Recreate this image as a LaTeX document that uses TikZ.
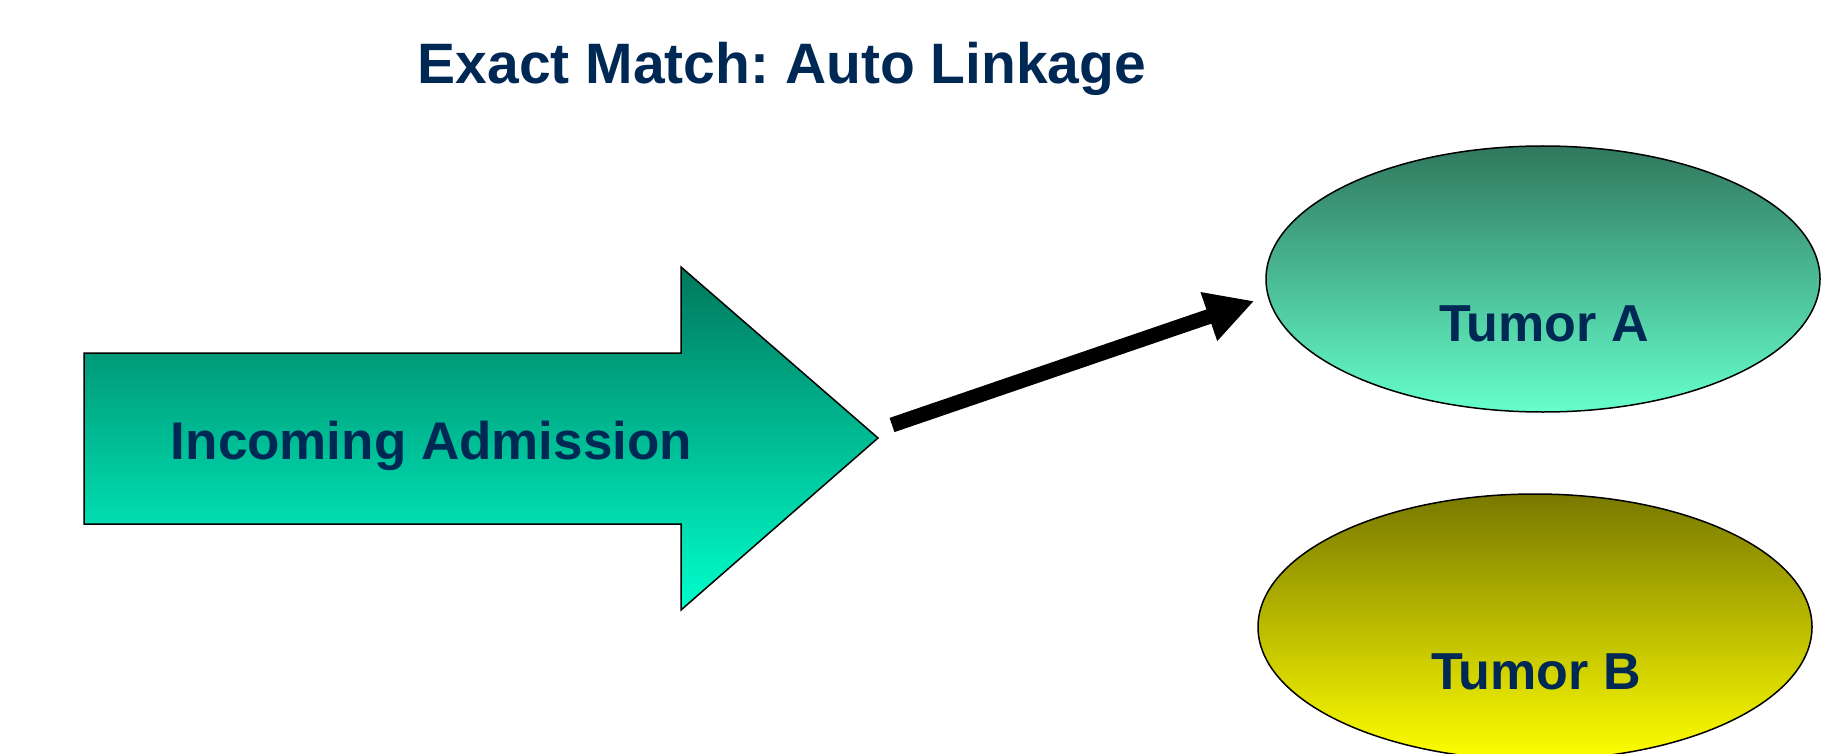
\documentclass[tikz,border=0pt]{standalone}
\usepackage{fontspec}
\setmainfont{Liberation Sans}
\usetikzlibrary{shapes.geometric,arrows.meta}
\frenchspacing

\definecolor{navy}{RGB}{0,40,85}
\definecolor{flowTop}{RGB}{0,120,92}
\definecolor{flowBottom}{RGB}{0,255,204}
\definecolor{tumATop}{RGB}{48,120,94}
\definecolor{tumABottom}{RGB}{102,255,204}
\definecolor{tumBTop}{RGB}{120,120,0}
\definecolor{tumBBottom}{RGB}{255,255,0}

\tikzset{
  txt/.style={text=navy, font=\bfseries, inner sep=0pt, anchor=base},
  outline/.style={draw=black, line width=1.5pt},
  tumour/.style={outline, ellipse, minimum width=554pt, minimum height=266pt, inner sep=0pt},
  link/.style={line width=15pt, -{Triangle[length=48pt,width=48pt]}}
}

\begin{document}
\begin{tikzpicture}[x=1pt, y=-1pt]
  \useasboundingbox (0,0) rectangle (1825,754);
  \clip (0,0) rectangle (1825,754);

  % heading
  \node[txt, font=\bfseries\fontsize{57}{60}\selectfont] (title) at (782,84)
    {Exact Match: Auto Linkage};

  % block arrow for the incoming record
  \coordinate (tip) at (878,438);
  \path[outline, top color=flowTop, bottom color=flowBottom]
    (84,353) -- (681,353) -- (681,267) -- (tip) -- (681,610)
    -- (681,524) -- (84,524) -- cycle;
  \node[txt, font=\bfseries\fontsize{53}{56}\selectfont] (inc) at (431.5,459)
    {Incoming Admission};

  % candidate tumours
  \node[tumour, top color=tumATop, bottom color=tumABottom] (tumA) at (1543,279) {};
  \node[txt, font=\bfseries\fontsize{52}{55}\selectfont] (tumAtxt) at (1544,341) {Tumor A};

  \node[tumour, top color=tumBTop, bottom color=tumBBottom] (tumB) at (1535,627) {};
  \node[txt, font=\bfseries\fontsize{52}{55}\selectfont] (tumBtxt) at (1536,689) {Tumor B};

  % automatic link
  \draw[link] ([shift={(14,-13)}]tip) -- ([shift={(-11,22)}]tumA.west);
\end{tikzpicture}
\end{document}
